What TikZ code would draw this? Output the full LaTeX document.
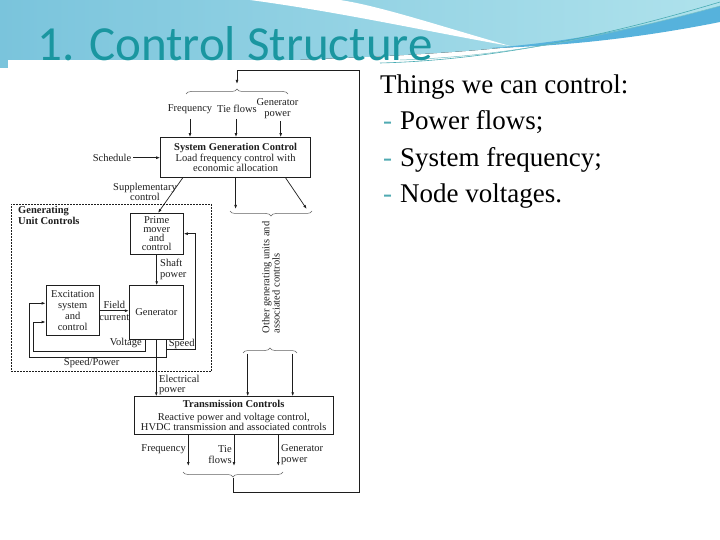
\documentclass[tikz,border=0pt]{standalone}
\usepackage{fontspec}
\setmainfont{Liberation Serif}
\newfontfamily\titlefont{Carlito}
\usetikzlibrary{arrows.meta,decorations.pathreplacing,calc}
\definecolor{hdrA}{RGB}{122,196,220}
\definecolor{hdrB}{RGB}{175,226,236}
\definecolor{stripeblue}{RGB}{86,178,220}
\definecolor{titleteal}{RGB}{26,150,160}
\definecolor{dashteal}{RGB}{80,170,178}
\definecolor{ink}{RGB}{30,30,30}
\begin{document}
\begin{tikzpicture}[x=1pt,y=-1pt,
  txt/.style={font=\fontsize{10.5}{10.3}\selectfont, inner sep=0pt, align=center, text=ink},
  box/.style={draw=ink, line width=0.8pt, inner sep=0pt, align=center, text=ink, font=\fontsize{10.5}{10.3}\selectfont},
  arr/.style={draw=ink, line width=0.7pt, -{Latex[length=4pt,width=2.8pt]}},
  brc/.style={draw=ink!70, line width=0.5pt, decorate, decoration={brace, amplitude=5pt}},
  brcm/.style={draw=ink!70, line width=0.5pt, decorate, decoration={brace, mirror, amplitude=5pt}},
  big/.style={font=\fontsize{27}{27}\selectfont, inner sep=0pt, anchor=base west, text=black},
  dsh/.style={font=\fontsize{27}{27}\selectfont, inner sep=0pt, anchor=base west, text=dashteal}
]
\useasboundingbox (0,0) rectangle (720,540);
\fill[white] (0,0) rectangle (720,540);
% header
\fill[left color=hdrA, right color=hdrB] (0,0) -- (720,0) -- (720,12) .. controls (640,30) and (560,44) .. (500,48) .. controls (400,58) and (200,64) .. (0,68) -- cycle;
\fill[white] (250,0) .. controls (340,12) and (430,32) .. (510,46) .. controls (440,26) and (380,6) .. (340,0) -- cycle;
\fill[stripeblue] (720,6) .. controls (640,28) and (570,42) .. (490,48) .. controls (580,46) and (660,34) .. (720,22) -- cycle;
\draw[titleteal!80, line width=0.6pt] (380,63) .. controls (500,60) and (620,32) .. (720,2);
\draw[titleteal!60, line width=0.5pt] (400,60) .. controls (520,56) and (630,30) .. (720,6);
% diagram white area
\fill[white] (8,60) rectangle (368,500);
% title
\node[font=\titlefont\fontsize{49}{49}\selectfont, text=titleteal, inner sep=0pt, anchor=base west] (title) at (37,61) {1. Control Structure};
% right text
\node[big] (h) at (380,93.3) {Things we can control:};
\node[dsh] (d1) at (383,130) {-};
\node[big] (i1) at (400,130) {Power flows;};
\node[dsh] (d2) at (383,166.5) {-};
\node[big] (i2) at (400,166.5) {System frequency;};
\node[dsh] (d3) at (383,202.7) {-};
\node[big] (i3) at (400,202.7) {Node voltages.};

% boxes
\node[box, minimum width=150pt, minimum height=40pt] (sgc) at (235.6,157.5) {\textbf{System Generation Control}\\Load frequency control with\\economic allocation};
\node[box, minimum width=53.3pt, minimum height=40.7pt, font=\fontsize{10.5}{9.2}\selectfont] (pm) at (156.7,233.7) {Prime\\mover\\and\\control};
\node[box, minimum width=54pt, minimum height=53.3pt] (gen) at (156.3,312.3) {Generator};
\node[box, minimum width=53.3pt, minimum height=50pt, font=\fontsize{10.5}{10.9}\selectfont] (exc) at (72.7,310.7) {Excitation\\system\\and\\control};
\node[box, minimum width=199.3pt, minimum height=37.3pt] (tc) at (233.7,415.3) {\textbf{Transmission Controls}\\[2.5pt]Reactive power and voltage control,\\HVDC transmission and associated controls};
\node[draw=ink, line width=0.6pt, dash pattern=on 2pt off 1pt, minimum width=200pt, minimum height=167.7pt, inner sep=0pt] (guc) at (111,287.85) {};

% labels
\node[txt] (fq1) at (190,109) {Frequency};
\node[txt] (tf1) at (237,109) {Tie flows};
\node[txt] (gp1) at (277.5,108.5) {Generator\\power};
\node[txt] (sch) at (112,157.7) {Schedule};
\node[txt] (sup) at (145,192) {Supplementary\\control};
\node[txt, rotate=90, align=left] (oth) at (271,277.5) {Other generating units and\\associated controls};
\node[txt, align=left, anchor=north west, font=\bfseries\fontsize{10.5}{10.3}\selectfont] (gul) at (18,206.5) {Generating\\Unit Controls};
\node[txt, align=left, anchor=west] (sp) at (160,269.5) {Shaft\\power};
\node[txt, font=\fontsize{10.5}{11.5}\selectfont] (fc) at (114.3,310.8) {Field\\current};
\node[txt, anchor=east] (volt) at (142,343) {Voltage};
\node[txt] (spd) at (181.7,343.5) {Speed};
\node[txt] (spp) at (91.7,362.5) {Speed/Power};
\node[txt, align=left, anchor=west] (ep) at (159,385) {Electrical\\power};
\node[txt, anchor=east] (fq2) at (186,449.3) {Frequency};
\node[txt, align=right, anchor=east] (tf2) at (232,454.5) {Tie\\flows};
\node[txt, align=left, anchor=west] (gp2) at (281,454.5) {Generator\\power};

% coordinates
\coordinate (b1l) at (186,94);
\coordinate (b1r) at (288,94);
\coordinate (b1t) at (237,88);
\coordinate (b2l) at (230,211);
\coordinate (b2r) at (312,211);
\coordinate (b2a) at (306.7,209);
\coordinate (b3l) at (243,353);
\coordinate (b3r) at (297,353);
\coordinate (t2) at (247.7,353.5);
\coordinate (t3) at (292.7,353.5);
\coordinate (b4l) at (183,472);
\coordinate (b4r) at (283,472);
\coordinate (b4t) at (233,477.5);
\coordinate (c1) at (359.5,492.7);
\coordinate (c2) at (359.5,70.7);
\coordinate (e1) at (188.3,466);
\coordinate (e2) at (234,466);
\coordinate (e3) at (278.3,466);
\coordinate (v1) at (33,351);
\coordinate (sp1) at (29.3,357);
\coordinate (s1) at (166.7,349);
\coordinate (s2) at (195,349);

% braces
\draw[brc] (b1l) -- (b1r);
\draw[brcm] (b2l) -- (b2r);
\draw[brc] (b3l) -- (b3r);
\draw[brcm] (b4l) -- (b4r);

% connectors
\draw[arr, shorten <=5pt] (fq1.south) -- (fq1.south |- sgc.north);
\draw[arr, shorten <=6pt] ([xshift=-1pt]tf1.south) -- ([xshift=-1pt]tf1.south |- sgc.north);
\draw[arr, shorten <=3pt] ([xshift=3.2pt]gp1.south) -- ([xshift=3.2pt]gp1.south |- sgc.north);
\draw[arr, shorten <=2pt] (sch.east) -- (sch.east -| sgc.west);
\draw[arr] ([xshift=22.5pt]sgc.south west) -- ([xshift=1.3pt]pm.north);
\draw[arr, shorten >=2pt] (sgc.south) -- (sgc.south |- b2l);
\draw[arr] ([xshift=50pt]sgc.south) -- (b2a);
\draw[arr] (pm.south) -- (pm.south |- gen.north);
\draw[arr] (exc.east) -- (exc.east -| gen.west);
\draw[arr] ([xshift=-11.3pt]gen.south) |- (v1) |- ([yshift=-11.3pt]exc.west);
\draw[arr] ([xshift=10.4pt]gen.south) |- (sp1) |- ([yshift=7.4pt]exc.west);
\draw[arr] (s1) -- (s2) |- (pm.east);
\draw[arr] (gen.south) -- (gen.south |- tc.north);
\draw[arr] (t2) -- (t2 |- tc.north);
\draw[arr] (t3) -- (t3 |- tc.north);
\draw[arr] (e1 |- tc.south) -- (e1);
\draw[arr] (e2 |- tc.south) -- (e2);
\draw[arr] (e3 |- tc.south) -- (e3);
\draw[arr, shorten >=4pt] (b4t) |- (c1) -- (c2) -| (b1t);
\end{tikzpicture}
\end{document}
